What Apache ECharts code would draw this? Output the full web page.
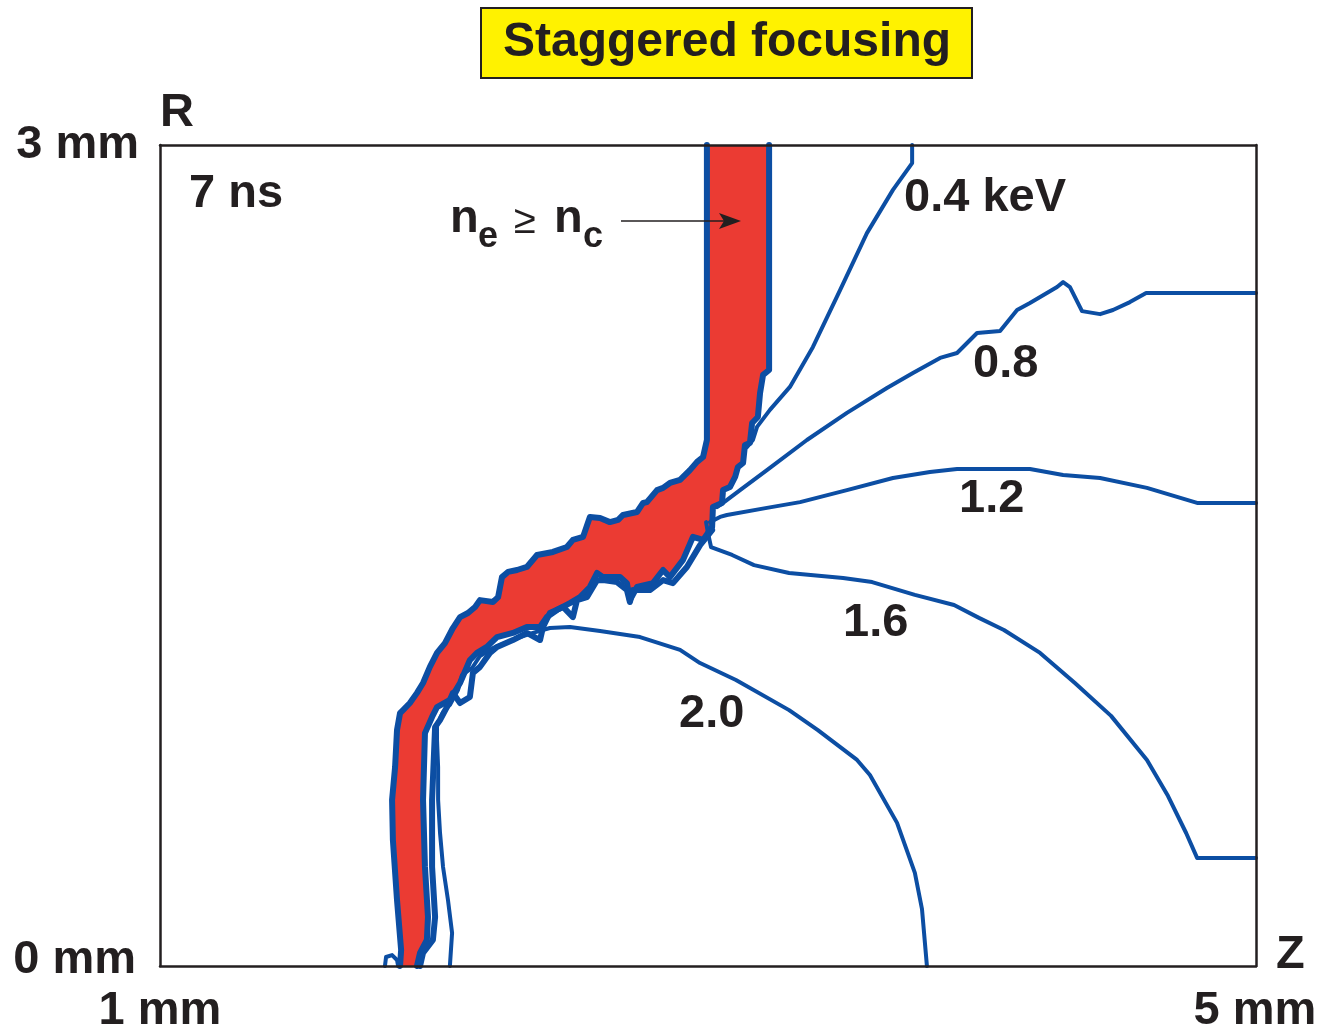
<!DOCTYPE html>
<html>
<head>
<meta charset="utf-8">
<script src="https://cdn.jsdelivr.net/npm/echarts@6/dist/echarts.min.js"></script>
<style>
  html, body { margin: 0; padding: 0; background: #ffffff; }
  #chart { width: 1322px; height: 1031px; }
</style>
</head>
<body>
<div id="chart"></div>
<script>
// Axial position Z (mm) and radius R (mm) of the contours at 7 ns.

// Critical-density layer (n_e >= n_c): outer edge, bottom to top
var bandUpper = [
  [1.876, 0.000], [1.880, 0.058], [1.865, 0.241], [1.850, 0.460], [1.847, 0.607],
  [1.858, 0.727], [1.865, 0.862], [1.876, 0.924], [1.887, 0.935], [1.912, 0.961],
  [1.938, 0.998], [1.960, 1.034], [1.985, 1.093], [2.011, 1.144], [2.040, 1.180],
  [2.069, 1.235], [2.095, 1.275], [2.124, 1.290], [2.150, 1.312], [2.168, 1.337],
  [2.215, 1.330], [2.234, 1.348], [2.248, 1.421], [2.270, 1.440], [2.303, 1.447],
  [2.339, 1.458], [2.376, 1.502], [2.434, 1.513], [2.485, 1.531], [2.507, 1.557],
  [2.544, 1.568], [2.569, 1.641], [2.606, 1.637], [2.642, 1.622], [2.672, 1.630],
  [2.690, 1.648], [2.741, 1.659], [2.763, 1.692], [2.777, 1.695], [2.814, 1.739],
  [2.836, 1.747], [2.861, 1.765], [2.898, 1.776], [2.934, 1.812], [2.960, 1.842],
  [2.982, 1.860], [2.996, 1.922], [2.996, 3.000]
];

// Critical-density layer: inner edge, top to bottom
var bandLower = [
  [3.223, 3.000], [3.223, 2.178], [3.201, 2.160], [3.190, 2.094], [3.182, 2.006],
  [3.161, 1.984], [3.153, 1.911], [3.135, 1.904], [3.128, 1.838], [3.109, 1.823],
  [3.099, 1.787], [3.080, 1.750], [3.055, 1.739], [3.051, 1.692], [3.018, 1.677],
  [3.015, 1.604], [2.982, 1.557], [2.945, 1.568], [2.909, 1.484], [2.861, 1.421],
  [2.836, 1.447], [2.799, 1.399], [2.741, 1.385], [2.715, 1.337], [2.704, 1.399],
  [2.679, 1.421], [2.617, 1.421], [2.595, 1.436], [2.569, 1.385], [2.533, 1.348],
  [2.496, 1.326], [2.449, 1.301], [2.412, 1.275], [2.387, 1.239], [2.339, 1.239],
  [2.288, 1.217], [2.230, 1.202], [2.193, 1.166], [2.157, 1.144], [2.131, 1.118],
  [2.095, 1.034], [2.058, 0.972], [2.011, 0.946], [1.993, 0.910], [1.967, 0.851],
  [1.960, 0.607], [1.967, 0.362], [1.978, 0.179], [1.974, 0.095], [1.949, 0.048],
  [1.938, 0.000]
];

// Neighbouring density contour running just inside the layer
var bandLowerOuter = [
  [3.015, 1.593], [2.971, 1.538], [2.923, 1.458], [2.872, 1.399], [2.836, 1.410],
  [2.788, 1.374], [2.726, 1.374], [2.715, 1.330], [2.704, 1.374], [2.668, 1.403],
  [2.617, 1.410], [2.595, 1.410], [2.558, 1.348], [2.522, 1.337], [2.507, 1.275],
  [2.471, 1.312], [2.423, 1.290], [2.398, 1.239], [2.387, 1.191], [2.339, 1.217],
  [2.288, 1.191], [2.230, 1.166], [2.204, 1.144], [2.168, 1.093], [2.142, 1.071],
  [2.131, 0.983], [2.095, 0.961], [2.069, 0.998], [2.047, 0.946], [2.022, 0.899],
  [2.004, 0.873], [1.993, 0.607], [1.993, 0.362], [2.004, 0.179], [1.996, 0.095],
  [1.960, 0.048], [1.949, 0.000]
];

// Small closed fragment at the foot of the layer
var footHook = [
  [1.821, 0.000], [1.825, 0.033], [1.847, 0.040], [1.865, 0.022], [1.869, 0.000]
];

// Electron temperature contours (keV)
var contour04 = [
  [3.745, 3.000], [3.745, 2.934], [3.675, 2.836], [3.580, 2.678], [3.482, 2.470],
  [3.383, 2.262], [3.299, 2.116], [3.226, 2.032], [3.179, 1.970], [3.164, 1.922],
  [3.142, 1.896]
];
var contour08 = [
  [3.033, 1.677], [3.055, 1.692], [3.117, 1.739], [3.215, 1.812], [3.361, 1.922],
  [3.507, 2.021], [3.653, 2.112], [3.748, 2.167], [3.847, 2.222], [3.909, 2.240],
  [3.982, 2.313], [4.066, 2.320], [4.128, 2.397], [4.175, 2.423], [4.274, 2.481],
  [4.296, 2.499], [4.321, 2.481], [4.365, 2.393], [4.431, 2.382], [4.478, 2.397],
  [4.540, 2.426], [4.599, 2.459], [4.785, 2.459], [5.000, 2.459]
];
var contour12 = [
  [3.007, 1.622], [3.044, 1.641], [3.069, 1.648], [3.215, 1.674], [3.336, 1.695],
  [3.507, 1.739], [3.675, 1.783], [3.810, 1.805], [3.909, 1.816], [4.175, 1.816],
  [4.296, 1.794], [4.431, 1.783], [4.602, 1.747], [4.785, 1.692], [5.000, 1.692]
];
var contour16 = [
  [2.993, 1.622], [3.000, 1.582], [3.011, 1.531], [3.088, 1.502], [3.168, 1.465],
  [3.296, 1.436], [3.493, 1.418], [3.599, 1.403], [3.755, 1.356], [3.898, 1.319],
  [3.989, 1.272], [4.080, 1.228], [4.212, 1.144], [4.339, 1.034], [4.471, 0.914],
  [4.602, 0.753], [4.679, 0.621], [4.745, 0.486], [4.785, 0.395], [5.000, 0.395]
];
var contour20 = [
  [2.058, 0.000], [2.066, 0.121], [2.051, 0.241], [2.033, 0.362], [2.022, 0.486],
  [2.015, 0.607], [2.015, 0.727], [2.011, 0.826], [2.011, 0.881], [2.033, 0.928],
  [2.058, 0.954], [2.088, 1.009], [2.102, 1.063], [2.139, 1.089], [2.168, 1.133],
  [2.215, 1.162], [2.259, 1.180], [2.307, 1.199], [2.361, 1.217], [2.423, 1.235],
  [2.496, 1.239], [2.606, 1.224], [2.752, 1.202], [2.898, 1.155], [2.971, 1.107],
  [3.102, 1.045], [3.296, 0.935], [3.401, 0.862], [3.544, 0.753], [3.591, 0.698],
  [3.690, 0.523], [3.755, 0.340], [3.781, 0.208], [3.799, 0.000]
];

var axisTicks = { z: ['1 mm', '5 mm'], r: ['0 mm', '3 mm'] };

var RED = '#eb3b33';
var BLUE = '#0c4ea3';
var INK = '#231f20';
var FONT = '"Liberation Sans", Arial, Helvetica, sans-serif';

var bandPolygon = bandUpper.concat(bandLower);

function blueLine(data, width) {
  return {
    type: 'line',
    data: data,
    showSymbol: false,
    symbol: 'none',
    silent: true,
    z: 3,
    lineStyle: { color: BLUE, width: width, join: 'round', cap: 'round' }
  };
}

function txt(text, x, y, opts) {
  opts = opts || {};
  return {
    type: 'text',
    z: 20,
    style: {
      text: text,
      x: x,
      y: y,
      fill: INK,
      font: (opts.weight || 'bold') + ' ' + (opts.size || 47) + 'px ' + FONT,
      textAlign: opts.align || 'left',
      textVerticalAlign: 'middle'
    }
  };
}

var chart = echarts.init(document.getElementById('chart'), null, { renderer: 'canvas' });

var frameAxis = {
  type: 'value',
  z: 10,
  axisLine: { show: true, onZero: false, lineStyle: { color: INK, width: 2.5 } },
  axisTick: { show: false },
  axisLabel: { show: false },
  splitLine: { show: false }
};

chart.setOption({
  animation: false,
  backgroundColor: '#ffffff',
  grid: { left: 160, right: 66, top: 145, bottom: 65 },
  xAxis: [
    Object.assign({}, frameAxis, { min: 1, max: 5, position: 'bottom' }),
    Object.assign({}, frameAxis, { min: 1, max: 5, position: 'top' })
  ],
  yAxis: [
    Object.assign({}, frameAxis, { min: 0, max: 3, position: 'left' }),
    Object.assign({}, frameAxis, { min: 0, max: 3, position: 'right' })
  ],
  series: [
    {
      type: 'custom',
      coordinateSystem: 'cartesian2d',
      silent: true,
      z: 2,
      data: [bandPolygon[0]],
      renderItem: function (params, api) {
        return {
          type: 'polygon',
          shape: { points: bandPolygon.map(function (p) { return api.coord(p); }) },
          style: { fill: RED }
        };
      }
    },
    blueLine(bandUpper, 6),
    blueLine(bandLower, 6),
    blueLine(bandLowerOuter, 6),
    blueLine(footHook, 4),
    blueLine(contour04, 4),
    blueLine(contour08, 4),
    blueLine(contour12, 4),
    blueLine(contour16, 4),
    blueLine(contour20, 4)
  ],
  graphic: [
    {
      type: 'rect', z: 19,
      shape: { x: 481, y: 8, width: 491, height: 70 },
      style: { fill: '#fff200', stroke: INK, lineWidth: 2 }
    },
    txt('Staggered focusing', 727, 43, { align: 'center', size: 48 }),
    txt('R', 160, 113),
    txt(axisTicks.r[1], 139, 145, { align: 'right' }),
    txt(axisTicks.r[0], 136, 960, { align: 'right' }),
    txt('Z', 1276, 955),
    txt(axisTicks.z[0], 160, 1011, { align: 'center' }),
    txt(axisTicks.z[1], 1255, 1011, { align: 'center' }),
    txt('7 ns', 189, 194),
    txt('n', 450, 219),
    txt('e', 478, 237, { size: 36 }),
    txt('\u2265', 514, 222, { size: 40, weight: 'normal' }),
    txt('n', 554, 219),
    txt('c', 583, 237, { size: 36 }),
    {
      type: 'line', z: 19,
      shape: { x1: 621, y1: 221, x2: 724, y2: 221 },
      style: { stroke: INK, lineWidth: 1.5 }
    },
    {
      type: 'polygon', z: 19,
      shape: { points: [[741, 221], [719, 213], [724, 221], [719, 229]] },
      style: { fill: INK }
    },
    txt('0.4 keV', 904, 198),
    txt('0.8', 973, 364),
    txt('1.2', 959, 499),
    txt('1.6', 843, 623),
    txt('2.0', 679, 714)
  ]
});
</script>
</body>
</html>
